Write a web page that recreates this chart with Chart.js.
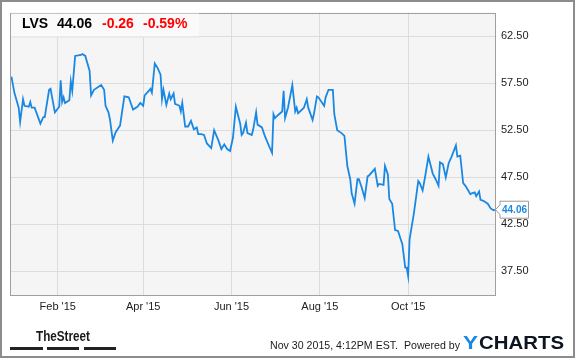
<!DOCTYPE html>
<html>
<head>
<meta charset="utf-8">
<title>LVS</title>
<script src="https://cdn.jsdelivr.net/npm/chart.js@4/dist/chart.umd.min.js"></script>
<style>
    html, body { margin: 0; padding: 0; background: #ffffff; }
    #chart1 { display: block; }
</style>
</head>
<body>
<canvas id="chart1" width="575" height="358"></canvas>
<script>
/* ---------------------------------------------------------------------------------------- */
/* DATA                                                                                     */
/* ---------------------------------------------------------------------------------------- */

    // day number counted from Jan 1 2015 (Jan 1 = 0)
    var days = [
        -1, 1, 4, 5, 7, 8, 11, 12, 13, 15, 19, 21, 22, 25, 26, 29,
        32, 33, 34, 35, 36, 39, 40, 41, 43, 47, 48, 50, 53, 54, 56,
        61, 63, 64, 66, 67, 69, 71, 74, 77, 80, 83, 86, 88,
        90, 91, 94, 95, 96, 98, 100, 102, 103, 104, 106, 108, 109, 111, 112, 115, 116, 117,
        119, 121, 123, 125, 127, 128, 130, 132, 134, 137, 139, 142, 144, 146, 148, 150,
        152, 154, 157, 158, 159, 161, 162, 165, 166, 168, 169, 172, 174, 177, 179, 180,
        181, 183, 186, 187, 188, 190, 193, 195, 196, 197, 201, 203, 204, 207, 208, 210, 211,
        215, 216, 218, 221, 222, 224, 227, 229, 231, 233, 234, 236, 238, 239, 241, 243,
        245, 246, 250, 252, 253, 256, 257, 259, 260, 262, 264, 266, 269, 271, 272,
        273, 274, 277, 280, 281, 283, 285, 287, 290, 292, 294, 295, 297, 299, 301, 303,
        306, 307, 309, 311, 312, 313, 316, 317, 319, 320, 322, 323, 325, 328, 330, 332, 333
    ];

    var prices = [
        58.2, 56.5, 54.9, 53.4, 55.8, 55.1, 55.0, 55.5, 54.9, 54.9, 53.2, 53.9, 53.9, 56.8, 56.9, 54.4,
        55.0, 57.8, 55.5, 56.0, 55.4, 55.7, 57.7, 56.7, 60.4, 60.5, 60.6, 60.4, 58.8, 56.2, 56.8,
        57.3, 56.8, 55.1, 54.4, 53.7, 51.4, 52.3, 53.0, 56.1, 56.0, 54.7, 55.0, 55.4,
        55.1, 56.2, 56.7, 56.9, 56.5, 59.6, 59.1, 58.4, 55.8, 56.8, 55.2, 56.4, 55.8, 56.4, 55.3, 55.1, 54.5, 55.4,
        52.9, 52.9, 53.5, 52.6, 52.8, 52.1, 52.1, 52.0, 51.1, 50.6, 52.5, 51.4, 50.5, 51.0, 50.5, 50.3,
        51.7, 55.0, 53.2, 52.0, 52.2, 53.3, 52.2, 52.0, 52.6, 54.4, 53.1, 52.8, 51.9, 50.8, 50.1, 54.2,
        53.8, 54.1, 54.5, 56.7, 53.8, 54.9, 57.3, 54.5, 54.9, 54.3, 54.9, 55.8, 54.9, 53.6, 54.3, 56.1, 56.0,
        55.1, 56.0, 56.8, 56.8, 54.2, 52.5, 52.2, 51.9, 48.7, 47.3, 45.8, 44.7, 47.3, 47.3, 46.4, 45.3,
        47.6, 47.7, 48.4, 46.6, 46.8, 46.7, 48.7, 47.8, 45.2, 44.7, 41.9, 41.8, 40.4, 37.9, 37.9,
        37.0, 40.9, 43.7, 47.1, 46.9, 46.1, 47.8, 49.7, 47.9, 47.3, 46.6, 49.1, 48.9, 47.5, 49.0, 49.7,
        50.9, 49.7, 49.8, 46.9, 46.7, 46.5, 45.7, 45.8, 45.9, 45.5, 46.0, 45.1, 45.0, 44.7, 44.2, 44.0, 44.06
    ];

    var xTickDays   = [31, 90, 151, 212, 273];
    var xTickLabels = ["Feb '15", "Apr '15", "Jun '15", "Aug '15", "Oct '15"];
    var yTicks      = [37.5, 42.5, 47.5, 52.5, 57.5, 62.5];

    var ticker    = 'LVS';
    var lastPrice = '44.06';
    var change    = '-0.26';
    var changePct = '-0.59%';
    var stamp     = 'Nov 30 2015, 4:12PM EST.  Powered by';

    var BLUE = '#1a88e3';
    var FONT = "'Liberation Sans', Arial, sans-serif";

/* ---------------------------------------------------------------------------------------- */
/* DECORATION PLUGIN                                                                        */
/* ---------------------------------------------------------------------------------------- */

    function fitText(ctx, txt, x, y, w){
        var m = ctx.measureText(txt).width;
        ctx.save();
        ctx.translate(x, y);
        ctx.scale(w / m, 1);
        ctx.fillText(txt, 0, 0);
        ctx.restore();
    }

    var decor = {
        id: 'decor',
        beforeDraw: function(chart){
            var ctx = chart.ctx, a = chart.chartArea;
            ctx.save();
            ctx.fillStyle = '#ffffff';
            ctx.fillRect(0, 0, chart.width, chart.height);
            ctx.fillStyle = '#f5f5f5';
            ctx.fillRect(a.left, a.top, a.right - a.left, a.bottom - a.top);
            ctx.restore();
        },
        afterDraw: function(chart){
            var ctx = chart.ctx, a = chart.chartArea;
            var xs = chart.scales.x, ys = chart.scales.y;
            ctx.save();

            // plot frame
            ctx.strokeStyle = '#a0a0a0';
            ctx.lineWidth = 1;
            ctx.strokeRect(Math.round(a.left) + 0.5, Math.round(a.top) + 0.5,
                           Math.round(a.right - a.left), Math.round(a.bottom - a.top));

            // header box
            ctx.fillStyle = '#fafafa';
            ctx.fillRect(a.left + 1, a.top + 1, 188, 23);
            ctx.strokeStyle = '#e4e4e4';
            ctx.beginPath();
            ctx.moveTo(a.left + 1, a.top + 24.5); ctx.lineTo(a.left + 189, a.top + 24.5);
            ctx.stroke();

            ctx.font = 'bold 14px ' + FONT;
            ctx.textBaseline = 'alphabetic';
            ctx.fillStyle = '#000000';
            ctx.fillText(ticker, 22, 28);
            ctx.fillText(lastPrice, 57, 28);
            ctx.fillStyle = '#ff0000';
            ctx.fillText(change, 102, 28);
            ctx.fillText(changePct, 143, 28);

            // last value tag
            var lx = xs.getPixelForValue(days[days.length - 1]);
            var ly = ys.getPixelForValue(prices[prices.length - 1]);
            ctx.fillStyle = '#ffffff';
            ctx.strokeStyle = '#999999';
            ctx.beginPath();
            ctx.moveTo(lx + 0.5, ly);
            ctx.lineTo(lx + 5, ly - 5);
            ctx.lineTo(lx + 5, ly - 8.5);
            ctx.lineTo(lx + 33.5, ly - 8.5);
            ctx.lineTo(lx + 33.5, ly + 8.5);
            ctx.lineTo(lx + 5, ly + 8.5);
            ctx.lineTo(lx + 5, ly + 5);
            ctx.closePath();
            ctx.fill();
            ctx.stroke();
            ctx.fillStyle = BLUE;
            ctx.font = 'bold 11px ' + FONT;
            ctx.textBaseline = 'middle';
            fitText(ctx, lastPrice, lx + 7, ly + 0.5, 25);

            // footer - TheStreet
            ctx.fillStyle = '#1a1a1a';
            ctx.textBaseline = 'alphabetic';
            ctx.font = "bold 15px 'Liberation Sans Narrow', " + FONT;
            fitText(ctx, 'TheStreet', 36, 341, 54);
            ctx.fillStyle = '#222222';
            ctx.fillRect(10, 347, 33, 3);
            ctx.fillRect(47, 347, 32, 3);
            ctx.fillRect(84, 347, 32, 3);

            // footer - stamp + YCHARTS
            ctx.fillStyle = '#1a1a1a';
            ctx.font = '11px ' + FONT;
            fitText(ctx, stamp, 270, 349, 190);
            ctx.font = 'bold 19px ' + FONT;
            ctx.fillStyle = '#0d1520';
            fitText(ctx, 'CHARTS', 479, 349, 85);
            ctx.fillStyle = BLUE;
            fitText(ctx, 'Y', 463, 349, 15);

            // outer frame
            ctx.strokeStyle = '#8c8c8c';
            ctx.lineWidth = 2;
            ctx.strokeRect(1, 1, chart.width - 2, chart.height - 2);
            ctx.restore();
        }
    };

/* ---------------------------------------------------------------------------------------- */
/* CHART                                                                                    */
/* ---------------------------------------------------------------------------------------- */

    var points = [];
    for(let i = 0; i < days.length; i++){
        points.push({ x: days[i], y: prices[i] });
    }

    var ctx = document.getElementById('chart1').getContext('2d');
    var chart1 = new Chart(ctx, {
        type: 'line',
        data: {
            datasets: [{
                label: ticker,
                data: points,
                borderColor: BLUE,
                borderWidth: 1.8,
                pointRadius: 0,
                tension: 0,
                fill: false
            }]
        },
        options: {
            responsive: false,
            animation: false,
            devicePixelRatio: 1,
            layout: { padding: { left: 10, top: 11, right: 0, bottom: 0 } },
            plugins: { legend: { display: false }, tooltip: { enabled: false } },
            scales: {
                x: {
                    type: 'linear',
                    min: -2,
                    max: 333,
                    afterBuildTicks: function(s){ s.ticks = xTickDays.map(function(v){ return { value: v }; }); },
                    afterFit: function(s){ s.height = 63; },
                    grid: { color: '#dcdcdc', drawTicks: false },
                    border: { display: false },
                    ticks: {
                        padding: 5,
                        maxRotation: 0,
                        autoSkip: false,
                        color: '#222222',
                        font: { family: FONT, size: 11 },
                        callback: function(v){ return xTickLabels[xTickDays.indexOf(v)]; }
                    }
                },
                y: {
                    position: 'right',
                    min: 35,
                    max: 65,
                    afterBuildTicks: function(s){ s.ticks = yTicks.map(function(v){ return { value: v }; }); },
                    afterFit: function(s){ s.width = 80; },
                    grid: { color: '#dcdcdc', drawTicks: false },
                    border: { display: false },
                    ticks: {
                        padding: 6,
                        color: '#222222',
                        font: { family: FONT, size: 11 },
                        callback: function(v){ return v.toFixed(2); }
                    }
                }
            }
        },
        plugins: [decor]
    });
</script>
</body>
</html>
